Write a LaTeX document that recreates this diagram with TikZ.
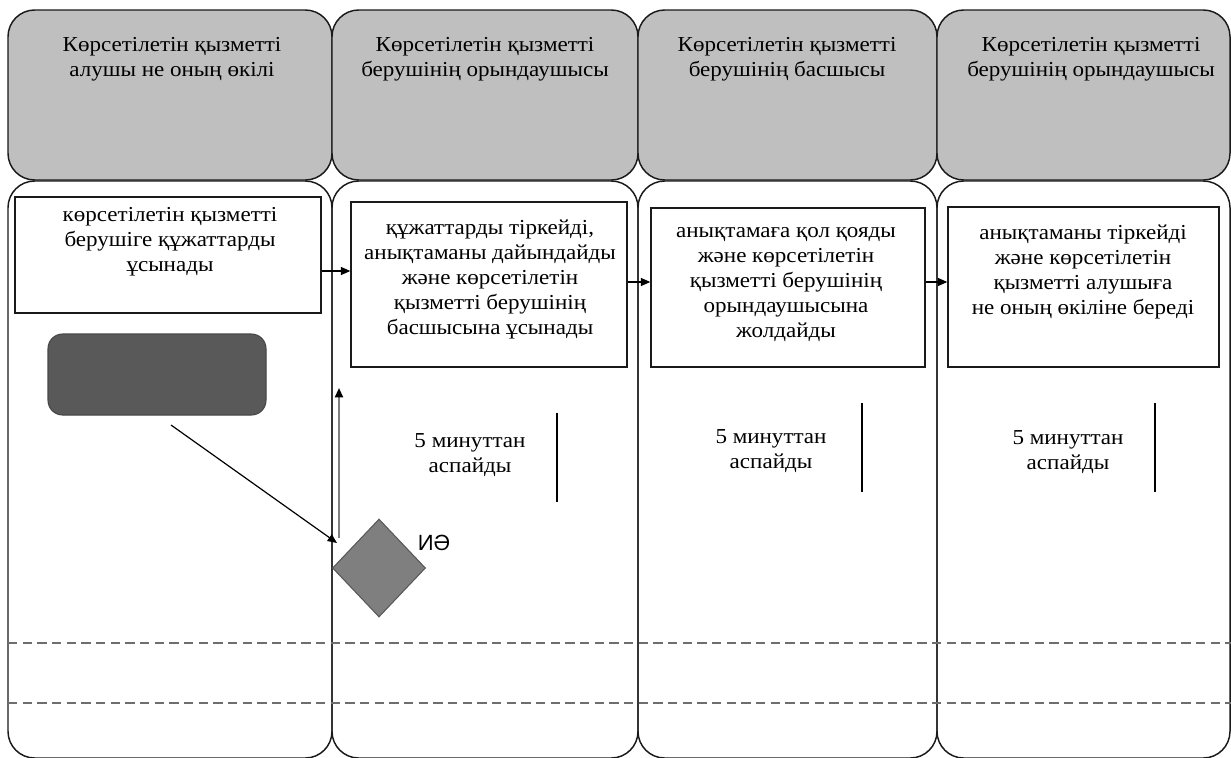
\documentclass[tikz,border=0pt]{standalone}
\usepackage{fontspec}
\setmainfont{Liberation Serif}[FakeStretch=1.08]
\newfontfamily\sansf{Liberation Sans}
\usetikzlibrary{shapes.geometric,arrows.meta}
\definecolor{hdrgray}{HTML}{BFBFBF}
\definecolor{darkbox}{HTML}{595959}
\definecolor{diagray}{HTML}{7F7F7F}
\definecolor{dashgray}{HTML}{6E6E6E}
\definecolor{linecol}{HTML}{1A1A1A}
\tikzset{
  lane/.style={draw=linecol, line width=1.1pt, rounded corners=20pt},
  hdr/.style={lane, fill=hdrgray},
  txt/.style={align=center, inner sep=0pt, font=\fontsize{16}{18.75}\selectfont},
  stepbox/.style={draw=linecol, line width=1.1pt, fill=white, inner sep=0pt},
  conn/.style={draw=black, line width=0.9pt, -{Triangle[length=7pt,width=6pt]}},
  timeline/.style={draw=black, line width=1.1pt},
  dashline/.style={draw=dashgray, line width=1.7pt, dash pattern=on 7pt off 4pt},
}
\begin{document}
\begin{tikzpicture}[x=0.75pt,y=-0.75pt]
\useasboundingbox (0,0) rectangle (1231,757);
\fill[white] (0,0) rectangle (1231,757);
% lane bodies
\draw[lane] (8,181) rectangle (332,758);
\draw[lane] (332,181) rectangle (638,758);
\draw[lane] (638,181) rectangle (937,758);
\draw[lane] (937,181) rectangle (1230,758);
% headers
\draw[hdr] (8,10) rectangle (332,180);
\draw[hdr] (332,10) rectangle (638,180);
\draw[hdr] (638,10) rectangle (937,180);
\draw[hdr] (937,10) rectangle (1230,180);
\node[txt] (t1) at (172,59.5) {Көрсетілетін қызметті\\алушы не оның өкілі};
\node[txt] (t2) at (485,59.5) {Көрсетілетін қызметті\\берушінің орындаушысы};
\node[txt] (t3) at (787,59.5) {Көрсетілетін қызметті\\берушінің басшысы};
\node[txt] (t4) at (1091,59.5) {Көрсетілетін қызметті\\берушінің орындаушысы};
% dashed lines
\coordinate (dl1) at (8,643);
\coordinate (dr1) at (1231,643);
\coordinate (dl2) at (8,703);
\coordinate (dr2) at (1231,703);
\draw[dashline] (dl1) -- (dr1);
\draw[dashline] (dl2) -- (dr2);
% step boxes
\node[stepbox, minimum width=229.5pt, minimum height=87pt] (b1) at (168,255) {};
\node[stepbox, minimum width=207pt, minimum height=123.75pt] (b2) at (489,284.5) {};
\node[stepbox, minimum width=205.5pt, minimum height=119.25pt] (b3) at (788,287.5) {};
\node[stepbox, minimum width=203.25pt, minimum height=120pt] (b4) at (1083.5,287) {};
\node[txt] (bt1) at (170,242) {көрсетілетін қызметті\\берушіге құжаттарды\\ұсынады};
\node[txt] (bt2) at (490,279) {құжаттарды тіркейді,\\анықтаманы дайындайды\\және көрсетілетін\\қызметті берушінің\\басшысына ұсынады};
\node[txt] (bt3) at (786,284.5) {анықтамаға қол қояды\\және көрсетілетін\\қызметті берушінің\\орындаушысына\\жолдайды};
\node[txt] (bt4) at (1083,272) {анықтаманы тіркейді\\және көрсетілетін\\қызметті алушыға\\не оның өкіліне береді};
% connectors between boxes
\draw[conn] (b1.east |- 0,271) -- (b2.west |- 0,271);
\draw[conn] (b2.east |- 0,282) -- (b3.west |- 0,282);
\draw[conn] (b3.east |- 0,282) -- (b4.west |- 0,282);
% start shape and decision
\node[draw=darkbox!80!black, fill=darkbox, line width=0.8pt, rounded corners=11pt, minimum width=163.5pt, minimum height=60.75pt, inner sep=0pt] (start) at (157,374.5) {};
\node[diamond, draw=darkbox, fill=diagray, line width=0.8pt, minimum width=69.75pt, minimum height=73.5pt, inner sep=0pt] (dec) at (379,568) {};
\node[font=\sansf\fontsize{16.5}{19}\selectfont, inner sep=0pt] (yes) at (434,543) {ИӘ};
\coordinate (s0) at (171,425);
\coordinate (s1) at (337,543);
\draw[draw=black, line width=0.9pt, -{Triangle[length=7pt,width=6pt]}] (s0) -- (s1);
\coordinate (u0) at (339,538);
\coordinate (u1) at (339,388);
\draw[draw=diagray, line width=1.4pt, -{Triangle[length=7pt,width=6pt,color=black]}] (u0) -- (u1);
% time labels
\node[txt] (m2) at (470,455) {5 минуттан\\аспайды};
\node[txt] (m3) at (771,451) {5 минуттан\\аспайды};
\node[txt] (m4) at (1068,452) {5 минуттан\\аспайды};
\draw[timeline] (557,413) -- (557,502);
\draw[timeline] (862,403) -- (862,492);
\draw[timeline] (1155,403) -- (1155,492);
\end{tikzpicture}
\end{document}
